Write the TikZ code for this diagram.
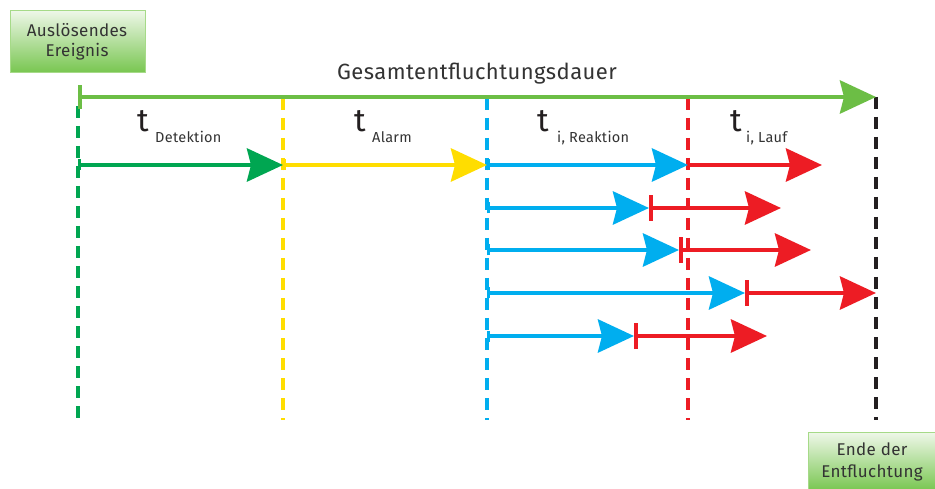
\documentclass[tikz,border=0pt]{standalone}
\usepackage{fontspec}
\setmainfont{Fira Sans}[LetterSpace=2]
\usetikzlibrary{arrows.meta}
\definecolor{lgreen}{HTML}{6CBE45}
\definecolor{dgreen}{HTML}{00A651}
\definecolor{myyellow}{HTML}{FFDD00}
\definecolor{mycyan}{HTML}{00AEEF}
\definecolor{myred}{HTML}{ED1C24}
\definecolor{myblack}{HTML}{231F20}
\definecolor{txt}{HTML}{333333}
\definecolor{boxtop}{HTML}{EEF7E8}
\definecolor{boxbot}{HTML}{78C650}
\definecolor{boxline}{HTML}{A6DA88}
\tikzset{
  head/.tip={Stealth[length=36pt,width=33pt,inset=4pt]},
  vline/.style={line width=3.6pt, dash pattern=on 12pt off 8pt},
  arr/.style={line width=4.6pt, -head},
  arrs/.style={arr, {Bar[width=11pt,line width=3pt]}-head},
  arrr/.style={arr, {Bar[width=26pt,line width=3.5pt]}-head},
  gbox/.style={draw=boxline, line width=1.2pt, top color=boxtop, bottom color=boxbot, anchor=north west, inner sep=0pt},
  bigt/.style={font=\fontsize{32}{32}\selectfont, text=myblack, anchor=base, inner sep=0pt},
  subt/.style={font=\fontsize{14.5}{15}\selectfont, text=txt, anchor=base west, inner sep=0pt},
  boxtxt/.style={font=\fontsize{17}{20}\selectfont, text=txt, align=center, inner sep=0pt, anchor=base}
}
\begin{document}
\begin{tikzpicture}[x=1pt,y=-1pt]
\useasboundingbox[fill=white] (0,0) rectangle (935,489);
% boxes
\node[gbox, minimum width=135pt, minimum height=62pt] (start) at (10,10) {};
\node[boxtxt] (startt1) at (77,37) {Auslösendes};
\node[boxtxt] (startt2) at (77,57) {Ereignis};
\node[gbox, minimum width=128pt, minimum height=58pt] (ende) at (808,432) {};
\node[boxtxt] (endt1) at (872,455) {Ende der};
\node[boxtxt] (endt2) at (872,477) {Entfluchtung};
% title
\node[font=\fontsize{22}{24}\selectfont, text=txt, anchor=base, inner sep=0pt] (title) at (477,80) {Gesamtentfluchtungsdauer};
% coordinates
\foreach \n/\x in {g/78,y/283,c/487,r/688,k/876}{
  \coordinate (\n top) at (\x,97);
  \coordinate (\n bot) at (\x,420);
}
% dashed verticals
\draw[vline, dgreen] (gtop) ++(0,9) -- (gbot);
\draw[vline, myyellow] (ytop) ++(0,1) -- (ybot);
\draw[vline, mycyan] (ctop) ++(0,1) -- (cbot);
\draw[vline, myred] (rtop) ++(0,1) -- (rbot);
\draw[vline, myblack] (ktop) -- (kbot);
% top arrow
\draw[line width=4.6pt, lgreen, {Bar[width=24pt,line width=3.5pt]}-head] (gtop) -- (ktop);
% labels
\node[bigt] (t1) at (143,132) {t};
\node[subt] (s1) at (155,143) {Detektion};
\node[bigt] (t2) at (360,132) {t};
\node[subt] (s2) at (372,143) {Alarm};
\node[bigt] (t3) at (543,132) {t};
\node[subt] (s3) at (557,143) {i, Reaktion};
\node[bigt] (t4) at (736,132) {t};
\node[subt] (s4) at (746,143) {i, Lauf};
% row 1
\coordinate (a0) at (78,165);
\coordinate (a1) at (283,165);
\coordinate (a2) at (487,165);
\coordinate (a3) at (688,165);
\coordinate (a4) at (822,165);
\draw[arrs, dgreen] (a0) -- (a1);
\draw[arrs, myyellow] (a1) -- (a2);
\draw[arrs, mycyan] (a2) -- (a3);
\draw[arr, myred] (a3) -- (a4);
% rows 2-5
\foreach \i/\yy/\m/\e in {2/208/649/781, 3/250/679/811, 4/293/745/876, 5/336/634/767}{
  \coordinate (b\i s) at (487,\yy);
  \coordinate (b\i m) at (\m,\yy);
  \coordinate (b\i e) at (\e,\yy);
  \draw[arrs, mycyan] (b\i s) -- (b\i m);
  \draw[arrr, myred] (b\i m) -- (b\i e);
}
\end{tikzpicture}
\end{document}
